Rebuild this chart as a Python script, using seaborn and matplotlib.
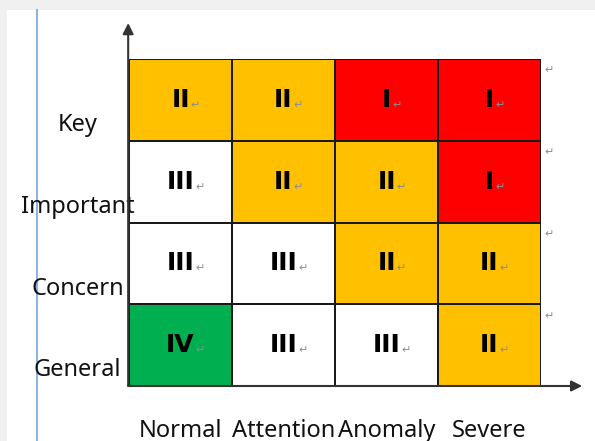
import numpy as np
import pandas as pd
import matplotlib
matplotlib.use("Agg")
import matplotlib.pyplot as plt
from matplotlib.colors import ListedColormap
from matplotlib.patches import Rectangle
from matplotlib.lines import Line2D
import seaborn as sns

# ---- data ----
rows = ["Key", "Important", "Concern", "General"]
cols = ["Normal", "Attention", "Anomaly", "Severe"]
key_levels = ["II", "II", "I", "I"]
important_levels = ["III", "II", "II", "I"]
concern_levels = ["III", "III", "II", "II"]
general_levels = ["IV", "III", "III", "II"]
level_names = ["I", "II", "III", "IV"]
level_colors = ["#FF0000", "#FFC000", "#FFFFFF", "#00B050"]

grid = [key_levels, important_levels, concern_levels, general_levels]
codes = pd.DataFrame([[level_names.index(v) + 1 for v in r] for r in grid],
                     index=rows, columns=cols)
labels = np.array(grid)

W, H = 595, 441
fig = plt.figure(figsize=(W / 100, H / 100), dpi=100)
fig.patch.set_facecolor("#f0f0f0")
fig.patches.append(Rectangle((7 / W, 0), 1, (H - 10) / H, transform=fig.transFigure,
                             facecolor="white", edgecolor="none", zorder=-10))
fig.lines.append(Line2D([37 / W, 37 / W], [0, (H - 10) / H], transform=fig.transFigure,
                        color="#8db3e2", lw=1.5, zorder=-5))

ax = fig.add_axes([129 / W, (H - 386) / H, 412 / W, 327 / H])
ax.set_facecolor("white")
sns.heatmap(codes, ax=ax, cmap=ListedColormap(level_colors), vmin=0.5, vmax=4.5,
            cbar=False, annot=labels, fmt="", linewidths=1.2, linecolor="#1a1a1a",
            annot_kws={"fontsize": 18, "fontweight": "bold", "color": "black",
                       "family": "DejaVu Sans"})
numeral_texts = [t for t in ax.texts if t.get_text() in level_names]

# ticks / labels
ax.set_yticks(np.arange(len(rows)) + 0.81)
ax.set_yticklabels(rows, fontsize=17, family="Noto Sans", color="#111111", rotation=0)
for t in ax.get_yticklabels():
    t.set_ha("center")
    t.set_va("center")
ax.tick_params(axis="y", length=0, pad=37)
ax.set_xticks(np.arange(len(cols)) + 0.5)
ax.set_xticklabels(cols, fontsize=17, family="Noto Sans", color="#111111", rotation=0)
ax.tick_params(axis="x", length=0, pad=24)
ax.set_xlabel("")
ax.set_ylabel("")

# axes arrows
arrow_kw = dict(arrowstyle="-|>", color="#333333", lw=1.5, mutation_scale=16,
                shrinkA=0, shrinkB=0)
ax.annotate("", xy=(-0.002, 1.11), xytext=(-0.002, 0), xycoords="axes fraction",
            textcoords="axes fraction", arrowprops=arrow_kw, annotation_clip=False)
ax.annotate("", xy=(1.10, 0), xytext=(-0.002, 0), xycoords="axes fraction",
            textcoords="axes fraction", arrowprops=arrow_kw, annotation_clip=False)

# paragraph marks after each numeral
fig.canvas.draw()
renderer = fig.canvas.get_renderer()
inv = ax.transData.inverted()
for t in numeral_texts:
    bb = t.get_window_extent(renderer)
    x, y = inv.transform((bb.x1 + 1, bb.y0 + 7))
    ax.text(x, y, "\u21b5", color="#8c8c96", fontsize=8, ha="left", va="center",
            family="DejaVu Sans")
for i in range(len(rows)):
    ax.text(4.03, i + 0.14, "\u21b5", color="#8c8c96", fontsize=8, ha="left",
            va="center", family="DejaVu Sans", clip_on=False)

fig.savefig("out.png", dpi=100, facecolor=fig.get_facecolor())
